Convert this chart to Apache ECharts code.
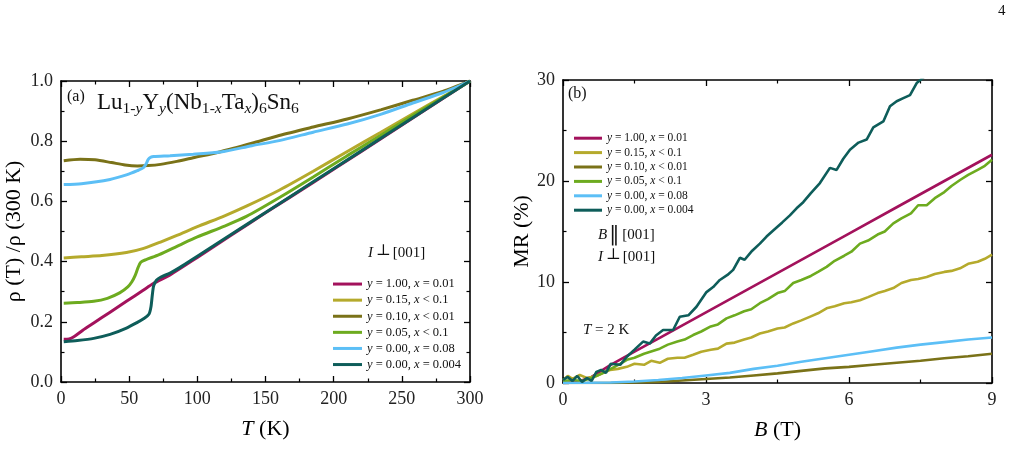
<!DOCTYPE html>
<html>
<head>
<meta charset="utf-8">
<script src="https://cdn.jsdelivr.net/npm/echarts@6/dist/echarts.min.js"></script>
<style>
  html, body { margin: 0; background: #fff; }
  #chart { width: 1016px; height: 450px; }
</style>
</head>
<body>
<div id="chart"></div>
<script>
// legend names (same samples in both panels)
const names = [
  'y = 1.00, x = 0.01',
  'y = 0.15, x < 0.1',
  'y = 0.10, x < 0.01',
  'y = 0.05, x < 0.1',
  'y = 0.00, x = 0.08',
  'y = 0.00, x = 0.004'
];
const colors = ['#a3125c', '#b5aa2c', '#7a7218', '#6dab1f', '#5cbff6', '#0e5d5a'];

// panel (a): [T (K), rho(T)/rho(300 K)]
const rhoA1 = [[2,0.142],[6,0.143],[10,0.152],[16,0.172],[24,0.196],[36,0.232],[48,0.268],[60,0.304],[68,0.328],[80,0.356],[100,0.414],[125,0.488],[150,0.562],[185,0.663],[220,0.765],[260,0.883],[300,1.0]];
const rhoA2 = [[2,0.412],[15,0.416],[30,0.42],[48,0.43],[60,0.443],[73,0.465],[85,0.487],[100,0.516],[120,0.552],[136,0.584],[160,0.637],[185,0.7],[210,0.766],[234,0.828],[260,0.896],[283,0.955],[300,1.0]];
const rhoA3 = [[2,0.735],[14,0.74],[25,0.738],[37,0.729],[47,0.721],[56,0.718],[64,0.719],[73,0.723],[85,0.733],[97,0.745],[117,0.765],[140,0.793],[160,0.819],[185,0.847],[210,0.874],[235,0.905],[258,0.936],[280,0.965],[300,1.0]];
const rhoA4 = [[2,0.262],[12,0.264],[24,0.268],[34,0.278],[43,0.296],[49,0.316],[52,0.333],[54.5,0.355],[56.5,0.38],[58.5,0.398],[62,0.406],[72,0.423],[87,0.455],[100,0.482],[120,0.518],[136,0.55],[160,0.612],[185,0.681],[210,0.752],[234,0.818],[260,0.891],[283,0.953],[300,1.0]];
const rhoA5 = [[2,0.656],[15,0.659],[36,0.673],[48,0.688],[56,0.702],[60.5,0.712],[62.5,0.725],[64,0.74],[66,0.747],[68,0.749],[80,0.752],[97,0.757],[117,0.764],[140,0.785],[160,0.802],[185,0.83],[210,0.857],[235,0.89],[258,0.927],[280,0.961],[300,1.0]];
const rhoA6 = [[2,0.134],[12,0.138],[24,0.145],[36,0.158],[48,0.179],[56,0.198],[60.5,0.21],[64.5,0.225],[66,0.25],[67,0.29],[68,0.32],[70,0.338],[73,0.348],[80,0.362],[87,0.38],[100,0.418],[125,0.491],[150,0.563],[185,0.665],[220,0.767],[260,0.884],[300,1.0]];

// panel (b): [B (T), MR (%)]
const mrB1 = [[0,0],[0.3,0.1],[0.6,0.6],[1,1.8],[1.5,3.1],[2,4.4],[3,7.0],[4,9.6],[5,12.2],[6,14.8],[7,17.4],[8,20.0],[9,22.6]];
const mrB2 = [[0,0.3],[0.1,0.7],[0.2,0.4],[0.35,0.8],[0.5,0.5],[0.7,0.7],[0.85,1.0],[0.99,1.3],[1.15,1.4],[1.34,1.6],[1.5,1.9],[1.7,1.8],[1.85,2.2],[2.03,2.0],[2.2,2.4],[2.4,2.5],[2.55,2.5],[2.73,2.8],[2.9,3.1],[3.1,3.3],[3.25,3.4],[3.43,3.9],[3.6,4.0],[3.8,4.3],[3.95,4.5],[4.13,4.9],[4.3,5.1],[4.5,5.4],[4.65,5.5],[4.83,5.9],[5.0,6.2],[5.2,6.6],[5.35,6.9],[5.53,7.4],[5.7,7.6],[5.9,7.9],[6.05,8.0],[6.23,8.2],[6.4,8.5],[6.6,8.9],[6.75,9.1],[6.93,9.4],[7.1,9.9],[7.3,10.2],[7.45,10.3],[7.63,10.5],[7.8,10.8],[8.0,11.0],[8.15,11.1],[8.33,11.35],[8.5,11.8],[8.7,12.0],[8.85,12.3],[9.0,12.7]];
const mrB3 = [[0,0],[0.5,0],[1,0],[1.5,0.05],[2,0.1],[2.5,0.25],[3,0.4],[3.5,0.55],[4,0.75],[4.5,0.95],[5,1.2],[5.5,1.45],[6,1.6],[6.5,1.8],[7,2.0],[7.5,2.2],[8,2.45],[8.5,2.65],[9,2.9]];
const mrB4 = [[0,0.2],[0.2,0.3],[0.4,0.2],[0.6,0.5],[0.8,0.9],[1.0,1.4],[1.2,1.9],[1.34,2.3],[1.5,2.5],[1.7,2.9],[2.03,3.4],[2.2,3.8],[2.4,4.1],[2.55,4.3],[2.73,4.75],[2.9,5.1],[3.1,5.6],[3.25,5.8],[3.43,6.4],[3.6,6.7],[3.8,7.1],[3.95,7.3],[4.13,7.9],[4.3,8.3],[4.5,8.9],[4.65,9.1],[4.83,9.9],[5.0,10.2],[5.2,10.6],[5.35,11.0],[5.53,11.5],[5.7,12.1],[5.9,12.6],[6.05,13.0],[6.23,13.8],[6.4,14.1],[6.6,14.7],[6.75,15.0],[6.93,15.8],[7.1,16.3],[7.3,16.8],[7.45,17.6],[7.63,17.6],[7.8,18.3],[8.0,18.9],[8.15,19.5],[8.33,20.1],[8.5,20.6],[8.7,21.1],[8.85,21.5],[9.0,22.1]];
const mrB5 = [[0,0],[0.5,0.02],[1,0.05],[1.5,0.15],[2,0.3],[2.5,0.5],[3,0.75],[3.5,1.0],[4,1.4],[4.5,1.7],[5,2.1],[5.5,2.45],[6,2.8],[6.5,3.15],[7,3.5],[7.5,3.8],[8,4.05],[8.5,4.3],[9,4.5]];
const mrB6 = [[0,0.3],[0.1,0.6],[0.2,0.2],[0.3,0.7],[0.4,0.1],[0.5,0.5],[0.6,0.2],[0.7,1.1],[0.8,1.3],[0.9,1.0],[1.0,1.9],[1.2,1.8],[1.34,2.6],[1.5,3.3],[1.68,4.1],[1.82,3.9],[1.95,4.7],[2.1,5.25],[2.31,5.25],[2.45,6.56],[2.63,6.7],[2.8,7.55],[3.01,9.0],[3.15,9.5],[3.29,10.2],[3.45,10.7],[3.57,11.2],[3.71,12.4],[3.81,12.2],[3.97,13.1],[4.13,13.8],[4.27,14.5],[4.41,15.1],[4.6,15.9],[4.76,16.6],[4.9,17.3],[5.04,17.9],[5.2,18.8],[5.39,19.8],[5.6,21.3],[5.74,21.1],[5.88,22.2],[6.02,23.1],[6.2,23.8],[6.37,24.1],[6.51,25.3],[6.72,25.9],[6.86,27.4],[7.0,27.9],[7.14,28.2],[7.28,28.5],[7.42,29.7],[7.6,30.4]];

const rhoData = [rhoA1, rhoA2, rhoA3, rhoA4, rhoA5, rhoA6];
const mrData = [mrB1, mrB2, mrB3, mrB4, mrB5, mrB6];

const FONT = 'Liberation Serif';
const chart = echarts.init(document.getElementById('chart'));

// one axis of a boxed plot, ticks inside, mirror copy has no labels
function makeAxis(grid, pos, min, max, interval, fmt, name, gap) {
  return {
    type: 'value', gridIndex: grid, position: pos, min: min, max: max, interval: interval,
    name: name || '', nameLocation: 'middle', nameGap: gap || 0,
    nameTextStyle: { fontFamily: FONT, fontSize: 22, color: '#000',
      rich: { i: { fontFamily: FONT, fontSize: 22, fontStyle: 'italic', color: '#000' } } },
    axisLine: { show: true, onZero: false, lineStyle: { color: '#000', width: 1.6 } },
    axisTick: { show: true, inside: true, length: 6, lineStyle: { color: '#000', width: 1.3 } },
    minorTick: { show: true, splitNumber: 2, length: 3.5, lineStyle: { color: '#000', width: 1.2 } },
    axisLabel: { show: !!fmt, formatter: fmt, fontFamily: FONT, fontSize: 18, color: '#222', margin: 8 },
    splitLine: { show: false }
  };
}

function legendFor(left, top, size, rowH, iconW) {
  return {
    orient: 'vertical', left: left, top: top, padding: 0, itemGap: 0,
    itemWidth: iconW, itemHeight: 3, icon: 'rect', data: names,
    formatter: n => n.replace(/([xy])/g, '{i|$1}'),
    textStyle: { fontFamily: FONT, fontSize: size, color: '#111', lineHeight: rowH,
      rich: { i: { fontFamily: FONT, fontSize: size, fontStyle: 'italic', color: '#111', lineHeight: rowH } } },
    selectedMode: false
  };
}

function label(text, left, top, size) {
  return {
    text: text, left: left, top: top, padding: 0,
    textStyle: { fontFamily: FONT, fontSize: size, fontWeight: 'normal', color: '#111',
      rich: {
        i: { fontFamily: FONT, fontSize: size, fontStyle: 'italic', color: '#111' },
        s: { fontFamily: FONT, fontSize: size * 0.68, color: '#111', padding: [13, 0, 0, 0] },
        si: { fontFamily: FONT, fontSize: size * 0.68, fontStyle: 'italic', color: '#111', padding: [13, 0, 0, 0] },
        up: { fontFamily: 'DejaVu Serif', fontSize: size * 1.05, color: '#111', padding: [0, 2, 5, 3] },
        bar: { fontFamily: 'DejaVu Serif', fontSize: size * 1.35, color: '#111', padding: [0, 3, 1, 2] }
      } }
  };
}

const series = [];
rhoData.forEach((d, k) => series.push({
  name: names[k], type: 'line', xAxisIndex: 0, yAxisIndex: 0, data: d,
  showSymbol: false, smooth: 0.25, lineStyle: { width: 3, color: colors[k] }, itemStyle: { color: colors[k] }
}));
mrData.forEach((d, k) => series.push({
  name: names[k], type: 'line', xAxisIndex: 2, yAxisIndex: 2, data: d,
  showSymbol: false, lineStyle: { width: 2.6, color: colors[k] }, itemStyle: { color: colors[k] }
}));

chart.setOption({
  animation: false,
  backgroundColor: '#fff',
  grid: [
    { left: 61, top: 81, width: 409, height: 301 },
    { left: 563, top: 80, width: 429, height: 303 }
  ],
  xAxis: [
    makeAxis(0, 'bottom', 0, 300, 50, v => v, '{i|T} (K)', 36),
    makeAxis(0, 'top', 0, 300, 50),
    makeAxis(1, 'bottom', 0, 9, 3, v => v, '{i|B} (T)', 36),
    makeAxis(1, 'top', 0, 9, 3)
  ],
  yAxis: [
    makeAxis(0, 'left', 0, 1, 0.2, v => v.toFixed(1), 'ρ (T) /ρ (300 K)', 36),
    makeAxis(0, 'right', 0, 1, 0.2),
    makeAxis(1, 'left', 0, 30, 10, v => v, 'MR (%)', 30),
    makeAxis(1, 'right', 0, 30, 10)
  ],
  legend: [
    legendFor(333, 276, 12.5, 16.1, 29),
    legendFor(574, 131, 11.5, 14.4, 28)
  ],
  title: [
    label('4', 998, 4, 15),
    label('(a)', 67, 89, 16),
    label('Lu{s|1-}{si|y}Y{si|y}(Nb{s|1-}{si|x}Ta{si|x}){s|6}Sn{s|6}', 97, 88, 23),
    label('{i|I}{up|⊥}[001]', 368, 243, 15),
    label('(b)', 568, 86, 16),
    label('{i|B}{bar|‖}[001]', 598, 225, 15),
    label('{i|I}{up|⊥}[001]', 598, 247, 15),
    label('{i|T} = 2 K', 583, 323, 15)
  ],
  series: series
});
</script>
</body>
</html>
